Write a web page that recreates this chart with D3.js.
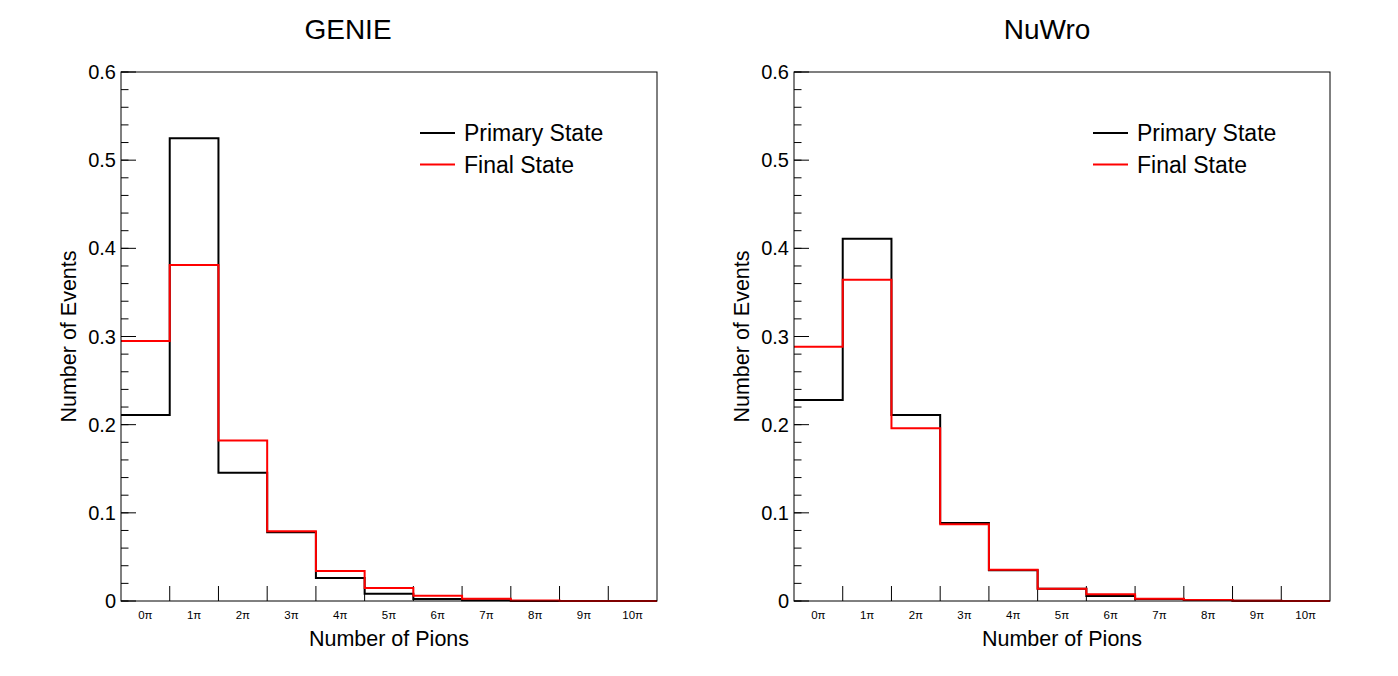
<!DOCTYPE html>
<html>
<head>
<meta charset="utf-8">
<script src="https://cdn.jsdelivr.net/npm/d3@7"></script>
<style>
  body { margin: 0; background: #fff; }
  svg { font-family: "Liberation Sans", Arial, Helvetica, sans-serif; }
</style>
</head>
<body>
<svg width="1398" height="676"></svg>
<script>
// bins: number of pions
const categories = ['0π', '1π', '2π', '3π', '4π', '5π', '6π', '7π', '8π', '9π', '10π']
const yTicks = [0, 0.1, 0.2, 0.3, 0.4, 0.5, 0.6]
const seriesNames = ['Primary State', 'Final State']
const seriesColors = ['#000000', '#ff0000']

const geniePrimary = [0.211, 0.525, 0.1455, 0.078, 0.026, 0.0083, 0.0023, 0.0008, 0, 0, 0]
const genieFinal = [0.295, 0.381, 0.182, 0.079, 0.034, 0.0147, 0.006, 0.0026, 0.0005, 0, 0]
const nuwroPrimary = [0.228, 0.411, 0.211, 0.0885, 0.035, 0.0138, 0.0057, 0.0024, 0.001, 0.0002, 0]
const nuwroFinal = [0.2885, 0.3645, 0.196, 0.087, 0.0355, 0.014, 0.0076, 0.0026, 0.0011, 0.0002, 0]

const panels = [
    { title: 'GENIE', offset: 0, titleX: 348, series: [geniePrimary, genieFinal] },
    { title: 'NuWro', offset: 673, titleX: 374, series: [nuwroPrimary, nuwroFinal] }
]

const svg = d3.select('svg')

function drawPanel(p) {
    const g = svg.append('g').attr('transform', `translate(${p.offset},0)`)
    const left = 121, right = 657, top = 72, bottom = 601

    const x = d3.scaleLinear().domain([-0.5, 10.5]).range([left, right])
    const y = d3.scaleLinear().domain([0, 0.6]).range([bottom, top])

    // title
    g.append('text')
        .attr('x', p.titleX).attr('y', 39)
        .attr('text-anchor', 'middle')
        .style('font-size', '28px')
        .text(p.title)

    // y ticks
    const minor = d3.range(0, 0.6001, 0.02)
    g.selectAll('.ymin').data(minor).enter().append('line')
        .attr('x1', left).attr('x2', left + 7.5)
        .attr('y1', d => y(d)).attr('y2', d => y(d))
        .style('stroke', '#000').style('stroke-width', 1)
    g.selectAll('.ymaj').data(yTicks).enter().append('line')
        .attr('x1', left).attr('x2', left + 15)
        .attr('y1', d => y(d)).attr('y2', d => y(d))
        .style('stroke', '#000').style('stroke-width', 1)
    g.selectAll('.ylab').data(yTicks).enter().append('text')
        .attr('x', left - 5).attr('y', d => y(d) + 7)
        .attr('text-anchor', 'end')
        .style('font-size', '20px')
        .text(d => d === 0 ? '0' : d3.format('.1f')(d))

    // x ticks at bin edges
    const edges = d3.range(0.5, 10, 1)
    g.selectAll('.xt').data(edges).enter().append('line')
        .attr('x1', d => x(d)).attr('x2', d => x(d))
        .attr('y1', bottom).attr('y2', bottom - 15)
        .style('stroke', '#000').style('stroke-width', 1)
    g.selectAll('.xlab').data(categories).enter().append('text')
        .attr('x', (d, i) => x(i)).attr('y', 619)
        .attr('text-anchor', 'middle')
        .style('font-size', '11.5px')
        .text(d => d)

    // histograms (step outline)
    const line = d3.line().x(d => x(d[0])).y(d => y(d[1]))
    p.series.forEach((vals, si) => {
        const pts = []
        vals.forEach((v, i) => { pts.push([i - 0.5, v]); pts.push([i + 0.5, v]) })
        g.append('path')
            .attr('d', line(pts))
            .style('fill', 'none')
            .style('stroke', seriesColors[si])
            .style('stroke-width', 2)
    })

    // frame
    g.append('rect')
        .attr('x', left).attr('y', top)
        .attr('width', right - left).attr('height', bottom - top)
        .style('fill', 'none').style('stroke', '#000').style('stroke-width', 1)

    // axis titles
    g.append('text')
        .attr('x', (left + right) / 2).attr('y', 646)
        .attr('text-anchor', 'middle')
        .style('font-size', '21.5px')
        .text('Number of Pions')
    g.append('text')
        .attr('transform', `translate(76,${(top + bottom) / 2}) rotate(-90)`)
        .attr('text-anchor', 'middle')
        .style('font-size', '21.5px')
        .text('Number of Events')

    // legend
    seriesNames.forEach((name, i) => {
        const ly = 133 + i * 31.5
        g.append('line')
            .attr('x1', 420).attr('x2', 455).attr('y1', ly).attr('y2', ly)
            .style('stroke', seriesColors[i]).style('stroke-width', 2)
        g.append('text')
            .attr('x', 464).attr('y', ly + 8)
            .style('font-size', '23px')
            .text(name)
    })
}

panels.forEach(drawPanel)
</script>
</body>
</html>
